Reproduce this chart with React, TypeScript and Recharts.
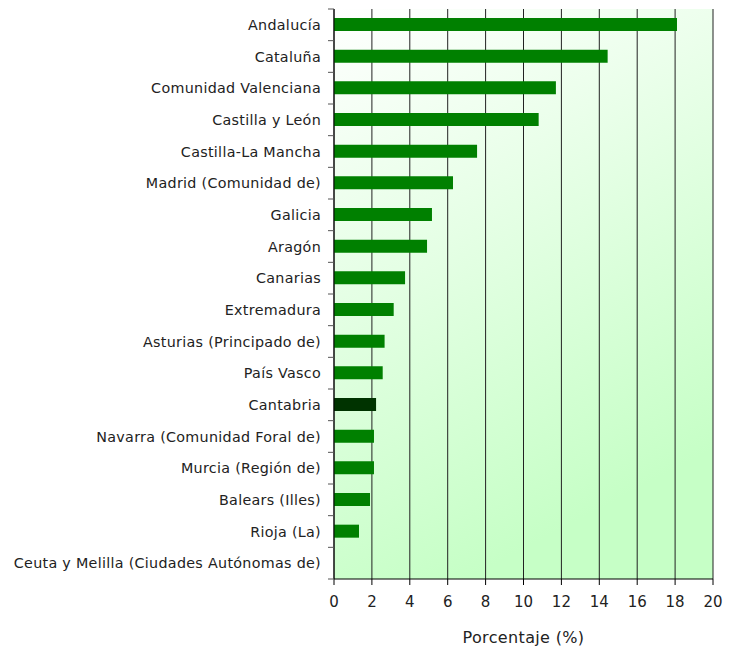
import React from 'react';
import { BarChart, Bar, XAxis, YAxis, CartesianGrid, Cell, Label } from 'recharts';

const regions = [
  'Andalucía',
  'Cataluña',
  'Comunidad Valenciana',
  'Castilla y León',
  'Castilla-La Mancha',
  'Madrid (Comunidad de)',
  'Galicia',
  'Aragón',
  'Canarias',
  'Extremadura',
  'Asturias (Principado de)',
  'País Vasco',
  'Cantabria',
  'Navarra (Comunidad Foral de)',
  'Murcia (Región de)',
  'Balears (Illes)',
  'Rioja (La)',
  'Ceuta y Melilla (Ciudades Autónomas de)',
];
const percentages = [18.1, 14.44, 11.71, 10.8, 7.55, 6.28, 5.17, 4.91, 3.75, 3.15, 2.67, 2.57, 2.22, 2.11, 2.11, 1.9, 1.32, 0];
const xTicks = [0, 2, 4, 6, 8, 10, 12, 14, 16, 18, 20];
const highlighted = 'Cantabria';

const data = regions.map((name, i) => ({ name, value: percentages[i] }));

const W = 736;
const H = 648;
const M = { top: 9, right: 23, left: 0, bottom: 0 };
const Y_AXIS_W = 334;
const X_AXIS_H = 69;
const PLOT_H = H - M.top - M.bottom - X_AXIS_H;
const BAND = PLOT_H / regions.length;
const GAP = 13;
const FONT = '"DejaVu Sans", "Open Sans", sans-serif';

const YTick = (props: any) => {
  const { x, y, payload, index } = props;
  const axisX = x + GAP;
  return (
    <g>
      <text
        x={x}
        y={y}
        dy="0.36em"
        textAnchor="end"
        fontSize={14.3}
        letterSpacing={0.3}
        fill="#222"
        fontFamily={FONT}
      >
        {payload.value}
      </text>
      <line x1={axisX - 6} x2={axisX} y1={y - BAND / 2} y2={y - BAND / 2} stroke="#555" strokeWidth={1} />
      {index === regions.length - 1 && (
        <line x1={axisX - 6} x2={axisX} y1={y + BAND / 2} y2={y + BAND / 2} stroke="#555" strokeWidth={1} />
      )}
    </g>
  );
};

export default function App() {
  return (
    <div style={{ position: 'absolute', left: 0, top: 0, width: W, height: H, background: '#fff' }}>
      <BarChart width={W} height={H} data={data} layout="vertical" margin={M} barCategoryGap={0}>
        <defs>
          <linearGradient id="bg" x1="0" y1="0" x2="0.35" y2="1">
            <stop offset="0%" stopColor="#ffffff" />
            <stop offset="100%" stopColor="#c6ffc6" />
          </linearGradient>
        </defs>
        <CartesianGrid horizontal={false} vertical={true} fill="url(#bg)" stroke="#222" strokeOpacity={1} />
        <XAxis
          type="number"
          domain={[0, 20]}
          ticks={xTicks}
          height={X_AXIS_H}
          tickSize={6}
          tickMargin={11}
          stroke="#000"
          tick={{ fill: '#222', fontSize: 15, fontFamily: FONT }}
          interval={0}
        >
          <Label
            value="Porcentaje (%)"
            position="insideBottom"
            offset={5}
            fill="#222"
            fontSize={16}
            letterSpacing={0.35}
            fontFamily={FONT}
          />
        </XAxis>
        <YAxis
          type="category"
          dataKey="name"
          width={Y_AXIS_W}
          tickLine={false}
          tickSize={0}
          tickMargin={GAP}
          stroke="#000"
          interval={0}
          tick={<YTick />}
        />
        <Bar dataKey="value" barSize={13} isAnimationActive={false}>
          {data.map((d) => (
            <Cell key={d.name} fill={d.name === highlighted ? '#003300' : '#008000'} />
          ))}
        </Bar>
      </BarChart>
    </div>
  );
}
